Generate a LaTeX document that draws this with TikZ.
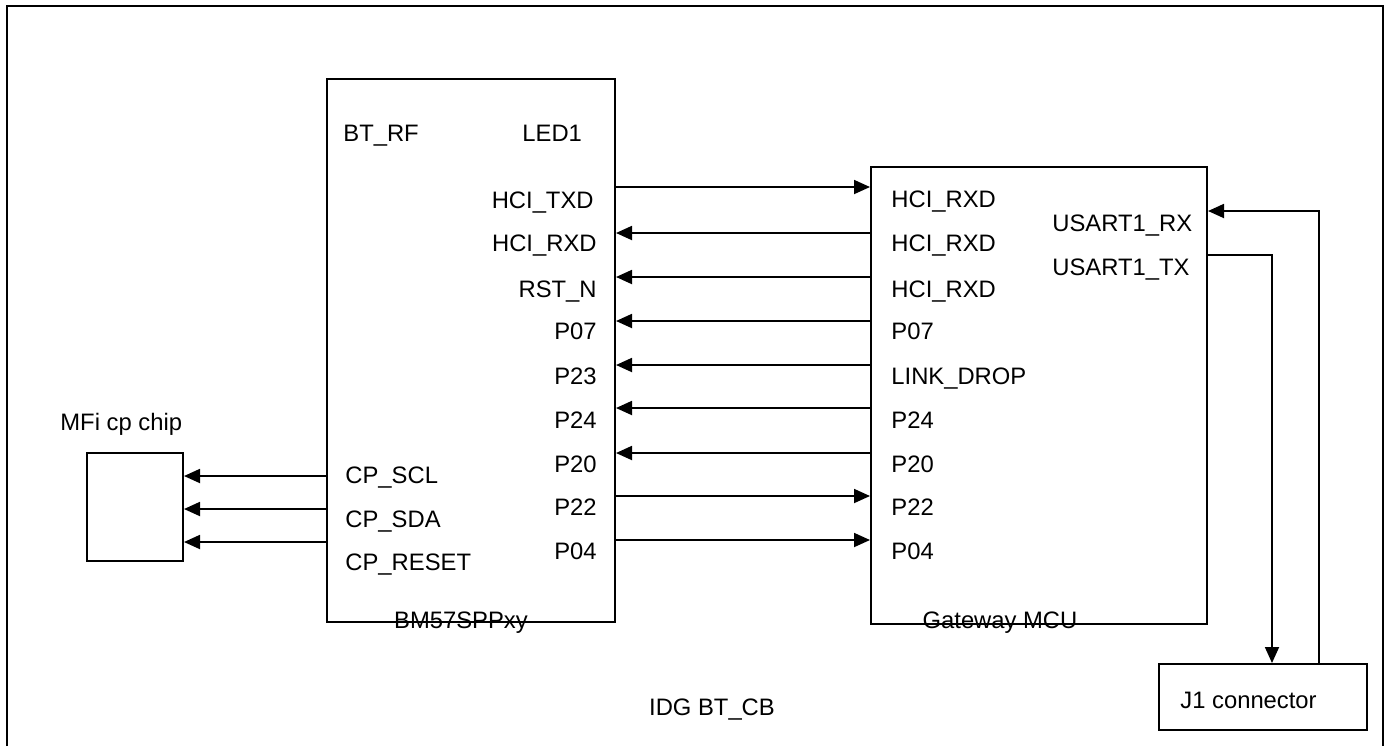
\documentclass[tikz,border=0pt]{standalone}
\usepackage{fontspec}
\setmainfont{Liberation Sans}
\usetikzlibrary{arrows.meta,fit}
\begin{document}
\begin{tikzpicture}[x=0.5pt,y=-0.5pt,
  box/.style={draw,line width=1pt,inner sep=0pt},
  arr/.style={line width=0.9pt,-{Triangle[length=8pt,width=7pt]}},
  wire/.style={line width=0.9pt},
  lbl/.style={inner sep=0pt,font=\fontsize{11.9}{14}\selectfont},
  lr/.style={lbl,anchor=base east},
  ll/.style={lbl,anchor=base west}]
\useasboundingbox (0,0) rectangle (1387,746);
% outer frame (open at bottom)
\draw[line width=1.3pt] (7,746) -- (7,6) -- (1383,6) -- (1383,746);
% boxes
\node[box,fit={(327,79) (615,622)}] (bm) {};
\node[box,fit={(871,167) (1207,624)}] (gw) {};
\node[box,fit={(87,453) (183,561)}] (mfi) {};
\node[box,fit={(1159,664) (1367,730)}] (j1) {};
% BM57 labels
\node[ll] (btrf) at (343,141) {BT\_RF};
\node[ll] (led1) at (522,141) {LED1};
\node[lr] (l1) at (594,208) {HCI\_TXD};
\node[lr] (l2) at (597,251) {HCI\_RXD};
\node[lr] (l3) at (597,297) {RST\_N};
\node[lr] (l4) at (597,339) {P07};
\node[lr] (l5) at (597,384) {P23};
\node[lr] (l6) at (597,428) {P24};
\node[lr] (l7) at (597,472) {P20};
\node[lr] (l8) at (597,515) {P22};
\node[lr] (l9) at (597,559) {P04};
\node[ll] (cp1) at (345,483) {CP\_SCL};
\node[ll] (cp2) at (345,527) {CP\_SDA};
\node[ll] (cp3) at (345,570) {CP\_RESET};
\node[lbl,anchor=base] (bmname) at (461,628) {BM57SPPxy};
% Gateway labels
\node[ll] (r1) at (891,207) {HCI\_RXD};
\node[ll] (r2) at (891,251) {HCI\_RXD};
\node[ll] (r3) at (891,297) {HCI\_RXD};
\node[ll] (r4) at (891,339) {P07};
\node[ll] (r5) at (891,384) {LINK\_DROP};
\node[ll] (r6) at (891,428) {P24};
\node[ll] (r7) at (891,472) {P20};
\node[ll] (r8) at (891,515) {P22};
\node[ll] (r9) at (891,559) {P04};
\node[ll] (urx) at (1052,231) {USART1\_RX};
\node[ll] (utx) at (1052,275) {USART1\_TX};
\node[lbl,anchor=base] (gwname) at (1000,628) {Gateway MCU};
% other labels
\node[ll] (mfiname) at (60,430) {MFi cp chip};
\node[ll] (j1name) at (1180,708) {J1 connector};
\node[lbl,anchor=base] (title) at (712,715) {IDG BT\_CB};
% BM57 <-> Gateway
\draw[arr] (bm.east |- 0,187) -- (gw.west |- 0,187);
\draw[arr] (gw.west |- 0,233) -- (bm.east |- 0,233);
\draw[arr] (gw.west |- 0,277) -- (bm.east |- 0,277);
\draw[arr] (gw.west |- 0,321) -- (bm.east |- 0,321);
\draw[arr] (gw.west |- 0,365) -- (bm.east |- 0,365);
\draw[arr] (gw.west |- 0,408) -- (bm.east |- 0,408);
\draw[arr] (gw.west |- 0,453) -- (bm.east |- 0,453);
\draw[arr] (bm.east |- 0,496) -- (gw.west |- 0,496);
\draw[arr] (bm.east |- 0,540) -- (gw.west |- 0,540);
% BM57 -> MFi
\draw[arr] (bm.west |- 0,476) -- (mfi.east |- 0,476);
\draw[arr] (bm.west |- 0,509) -- (mfi.east |- 0,509);
\draw[arr] (bm.west |- 0,542) -- (mfi.east |- 0,542);
% USART <-> J1
\coordinate (rxc) at (1319,211);
\coordinate (txc) at (1272,255);
\draw[arr] (j1.north -| rxc) -- (rxc) -- (gw.east |- rxc);
\draw[arr] (gw.east |- txc) -- (txc) -- (j1.north -| txc);
\end{tikzpicture}
\end{document}
